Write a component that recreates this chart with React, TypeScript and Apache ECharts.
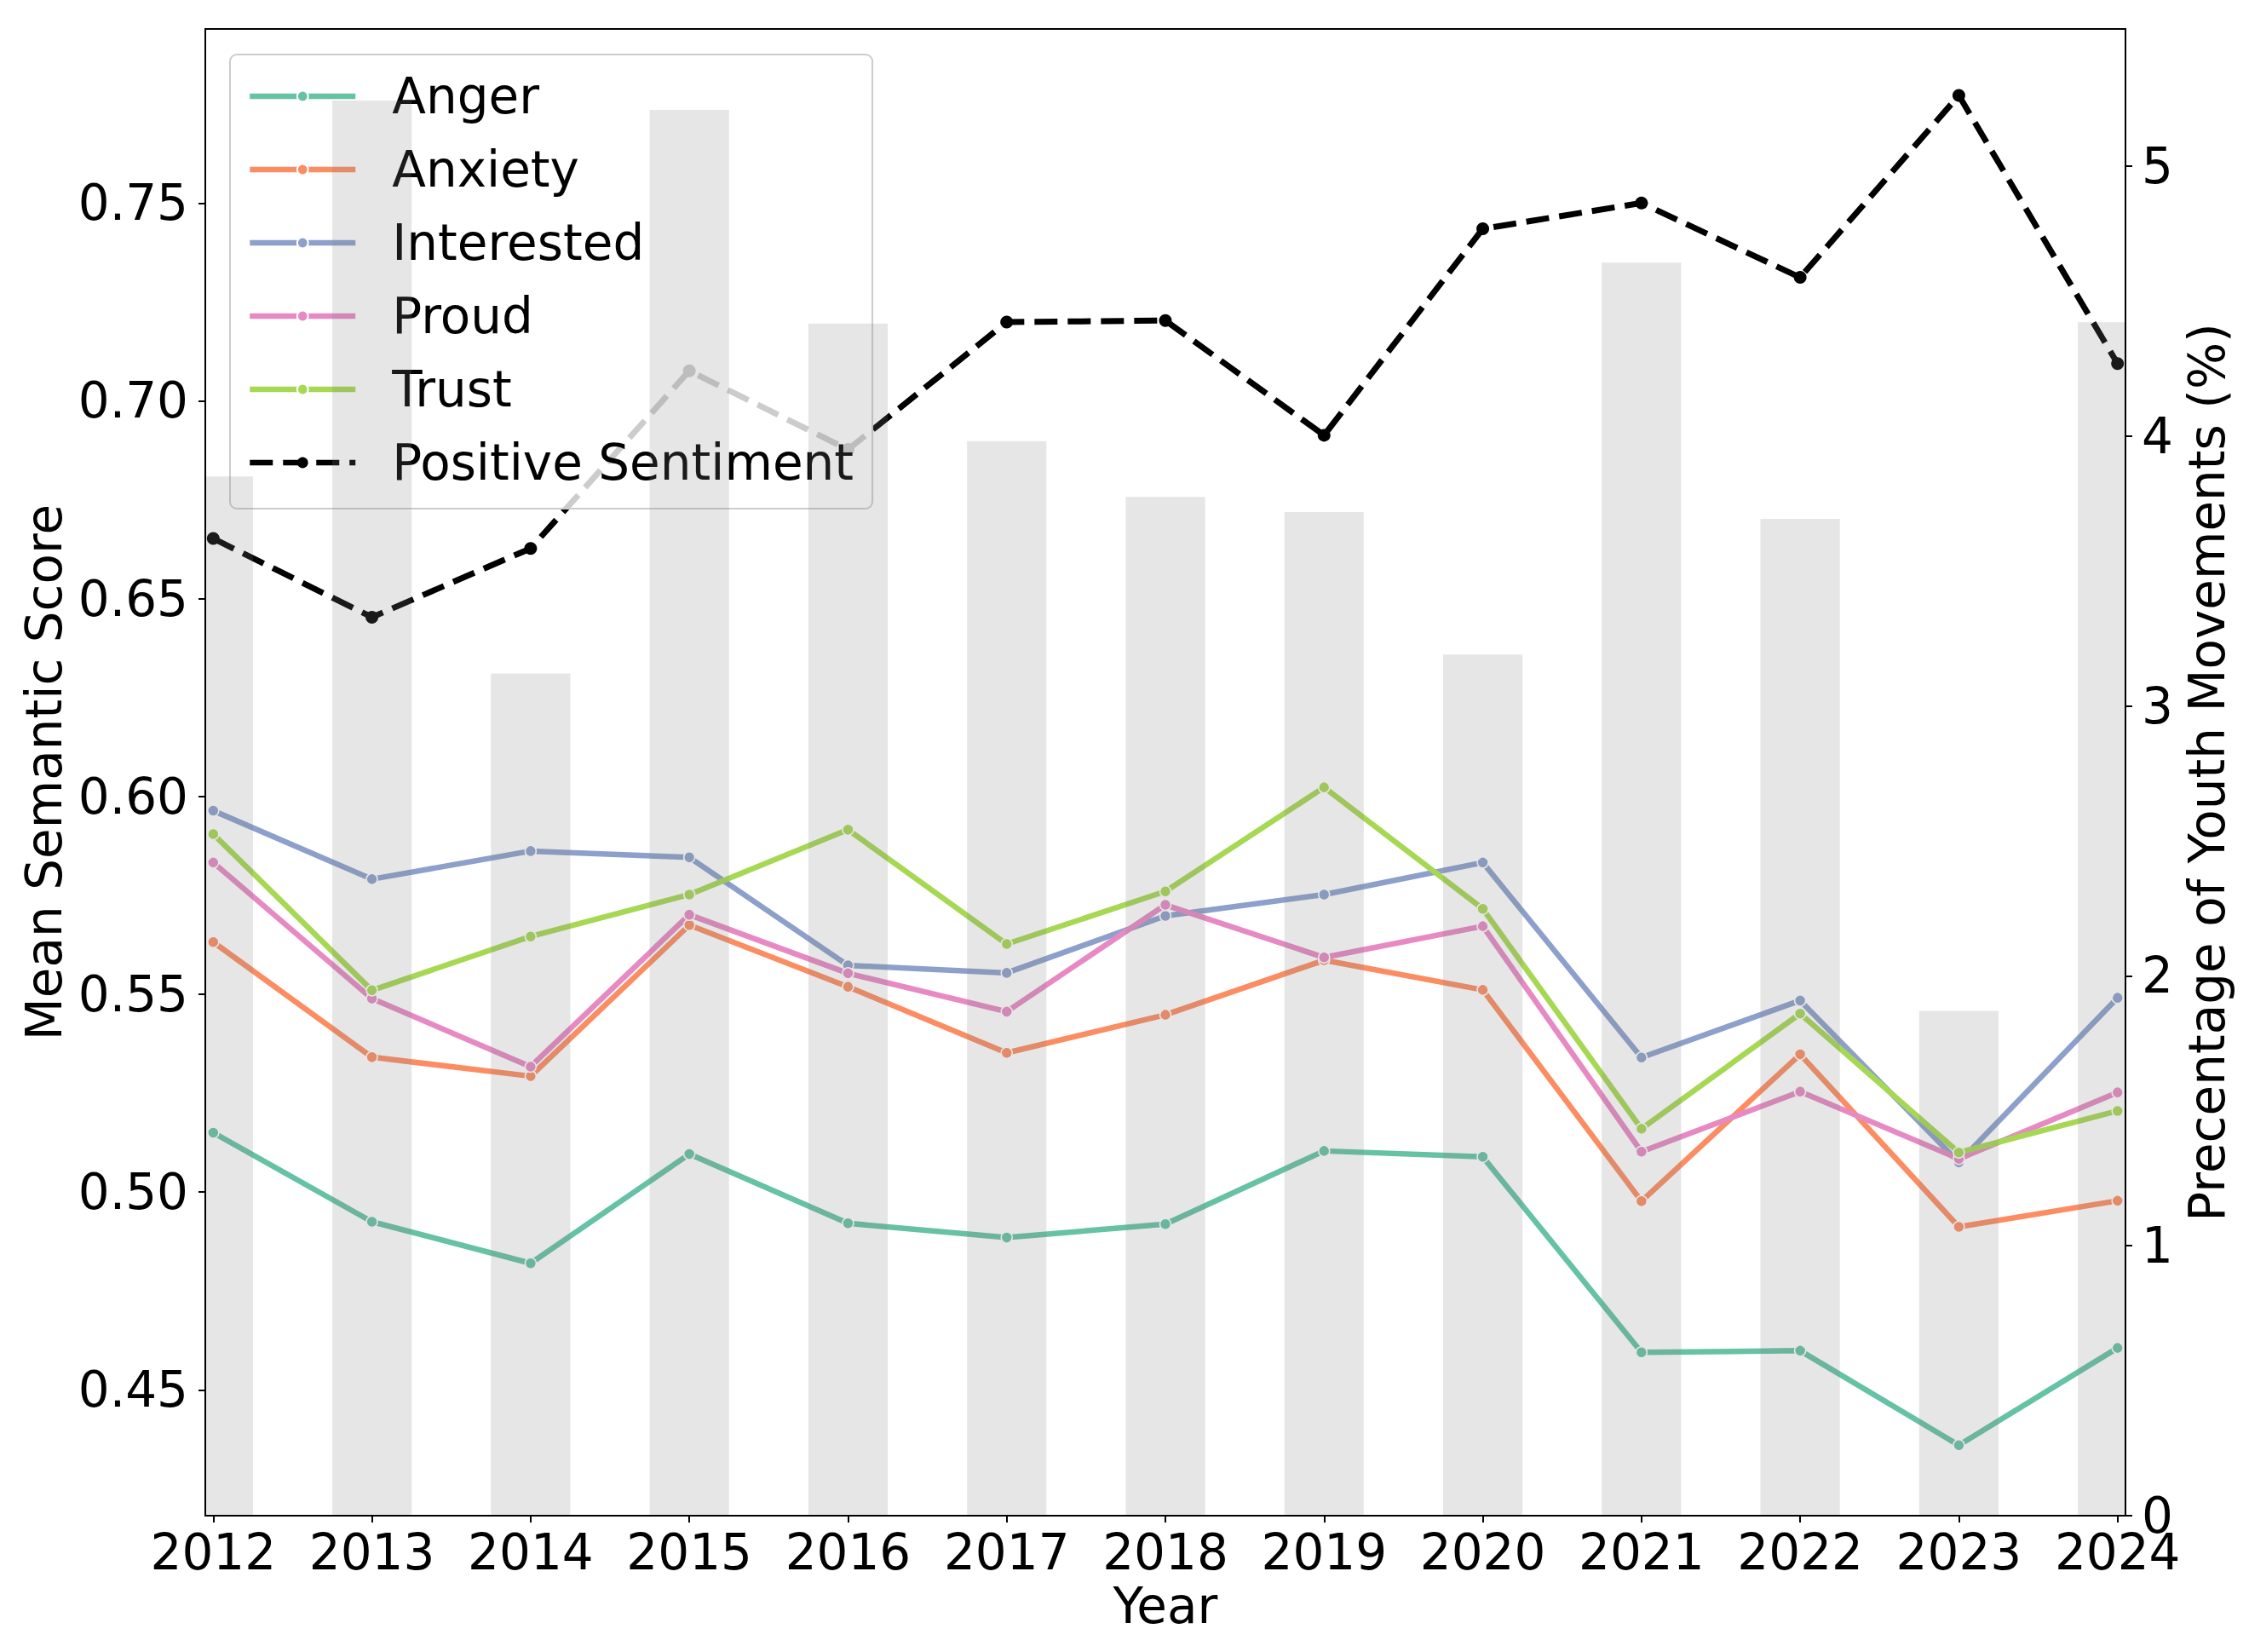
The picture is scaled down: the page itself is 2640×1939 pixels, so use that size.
import React, { useEffect, useRef } from 'react';
import * as echarts from 'echarts';

const years = [2012, 2013, 2014, 2015, 2016, 2017, 2018, 2019, 2020, 2021, 2022, 2023, 2024];

const anger = [0.515, 0.4925, 0.482, 0.5096, 0.4921, 0.4885, 0.4919, 0.5104, 0.5089, 0.4595, 0.4599, 0.436, 0.4606];
const anxiety = [0.5632, 0.5341, 0.5293, 0.5675, 0.5519, 0.5352, 0.5448, 0.5586, 0.5511, 0.4977, 0.5348, 0.4912, 0.4978];
const interested = [0.5964, 0.5791, 0.5862, 0.5846, 0.5573, 0.5554, 0.5698, 0.5752, 0.5833, 0.534, 0.5484, 0.5075, 0.5491];
const proud = [0.5833, 0.5489, 0.5317, 0.5701, 0.5553, 0.5456, 0.5726, 0.5593, 0.5672, 0.5102, 0.5254, 0.5084, 0.5252];
const trust = [0.5905, 0.551, 0.5646, 0.5752, 0.5916, 0.5627, 0.576, 0.6023, 0.5716, 0.516, 0.5451, 0.51, 0.5205];
const positive = [0.6652, 0.6453, 0.6627, 0.7076, 0.6877, 0.7199, 0.7203, 0.6913, 0.7435, 0.75, 0.7312, 0.7772, 0.7094];

// share of youth movements (%), right axis
const youthShare = [3.85, 5.243, 3.12, 5.208, 4.417, 3.981, 3.774, 3.718, 3.19, 4.642, 3.693, 1.87, 4.421];

const leftTicks = [0.45, 0.5, 0.55, 0.6, 0.65, 0.7, 0.75];
const rightTicks = [0, 1, 2, 3, 4, 5];

const FONT = 'DejaVu Sans';
const BAR_FILL = 'rgba(128,128,128,0.2)';

const App: React.FC = () => {
  const chartRef = useRef<HTMLDivElement | null>(null);

  useEffect(() => {
    if (!chartRef.current) return;
    const chart = echarts.init(chartRef.current, null, { renderer: 'svg' });

    const emotion = (name: string, values: number[], color: string) => ({
      name,
      type: 'line',
      xAxisIndex: 0,
      yAxisIndex: 0,
      z: 2,
      data: years.map((y, i) => [y, values[i]]),
      symbol: 'circle',
      symbolSize: 13,
      lineStyle: { color, width: 6.5 },
      itemStyle: { color, borderColor: '#ffffff', borderWidth: 1.5 },
    });

    const axisText = { fontSize: 58, fontFamily: FONT, color: '#000' };
    const axisLine = { show: true, lineStyle: { color: '#000', width: 2 } };
    const axisTick = { show: true, inside: false, length: 8, lineStyle: { color: '#000', width: 2 } };

    const option = {
      animation: false,
      backgroundColor: '#ffffff',
      textStyle: { fontFamily: FONT },
      grid: {
        left: 241,
        right: 145,
        top: 34,
        bottom: 160,
        show: true,
        borderColor: '#000',
        borderWidth: 2,
        backgroundColor: 'transparent',
      },
      legend: {
        orient: 'vertical',
        left: 270,
        top: 64,
        padding: [19, 22, 24, 20],
        itemWidth: 124,
        itemHeight: 16,
        itemGap: 26,
        lineStyle: { width: 6.5 },
        backgroundColor: 'rgba(255,255,255,0.8)',
        borderColor: '#cccccc',
        borderWidth: 2,
        borderRadius: 8,
        textStyle: { fontSize: 58, fontFamily: FONT, color: '#000', lineHeight: 60, padding: [0, 0, 0, 38] },
        data: ['Anger', 'Anxiety', 'Interested', 'Proud', 'Trust', 'Positive Sentiment'],
      },
      xAxis: {
        type: 'value',
        min: 2011.95,
        max: 2024.05,
        z: 20,
        name: 'Year',
        nameLocation: 'middle',
        nameGap: 76,
        nameTextStyle: axisText,
        axisLine,
        axisTick: { ...axisTick, customValues: years },
        axisLabel: { ...axisText, margin: 14, customValues: years, formatter: (v: number) => String(Math.round(v)) },
        splitLine: { show: false },
      },
      yAxis: [
        {
          type: 'value',
          position: 'left',
          min: 0.4182,
          max: 0.794,
          z: 20,
          name: 'Mean Semantic Score',
          nameLocation: 'middle',
          nameGap: 152,
          nameRotate: 90,
          nameTextStyle: axisText,
          axisLine,
          axisTick: { ...axisTick, customValues: leftTicks },
          axisLabel: { ...axisText, margin: 20, customValues: leftTicks, formatter: (v: number) => v.toFixed(2) },
          splitLine: { show: false },
        },
        {
          type: 'value',
          position: 'right',
          min: 0,
          max: 5.508,
          z: 20,
          name: 'Precentage of Youth Movements (%)',
          nameLocation: 'middle',
          nameGap: 42,
          nameRotate: 90,
          nameTextStyle: axisText,
          axisLine,
          axisTick: { ...axisTick, customValues: rightTicks },
          axisLabel: { ...axisText, margin: 19, customValues: rightTicks, formatter: (v: number) => String(v) },
          splitLine: { show: false },
        },
      ],
      series: [
        emotion('Anger', anger, '#66c2a5'),
        emotion('Anxiety', anxiety, '#fc8d62'),
        emotion('Interested', interested, '#8da0cb'),
        emotion('Proud', proud, '#e78ac3'),
        emotion('Trust', trust, '#a6d854'),
        {
          name: 'Positive Sentiment',
          type: 'line',
          xAxisIndex: 0,
          yAxisIndex: 0,
          z: 3,
          data: years.map((y, i) => [y, positive[i]]),
          symbol: 'circle',
          symbolSize: 15,
          lineStyle: { color: '#000', width: 7, type: [27, 12] },
          itemStyle: { color: '#000' },
        },
        {
          // bars of width 0.5 year, clipped to the plot area like the original
          name: 'Youth Movements',
          type: 'custom',
          xAxisIndex: 0,
          yAxisIndex: 1,
          z: 10,
          silent: true,
          encode: { x: 0, y: 1 },
          data: years.map((y, i) => [y, youthShare[i]]),
          renderItem: (params: any, api: any) => {
            const x = api.value(0);
            const top = api.coord([x, api.value(1)]);
            const base = api.coord([x, 0]);
            const w = api.size([0.5, 0])[0];
            const cs = params.coordSys;
            const shape = echarts.graphic.clipRectByRect(
              { x: top[0] - w / 2, y: top[1], width: w, height: base[1] - top[1] },
              { x: cs.x, y: cs.y, width: cs.width, height: cs.height }
            );
            return shape ? { type: 'rect', shape, style: { fill: BAR_FILL } } : null;
          },
        },
      ],
    };

    chart.setOption(option as any);

    return () => {
      chart.dispose();
    };
  }, []);

  return (
    <div
      ref={chartRef}
      style={{ position: 'fixed', left: 0, top: 0, width: '2640px', height: '1939px', background: '#fff' }}
    />
  );
};

export default App;
